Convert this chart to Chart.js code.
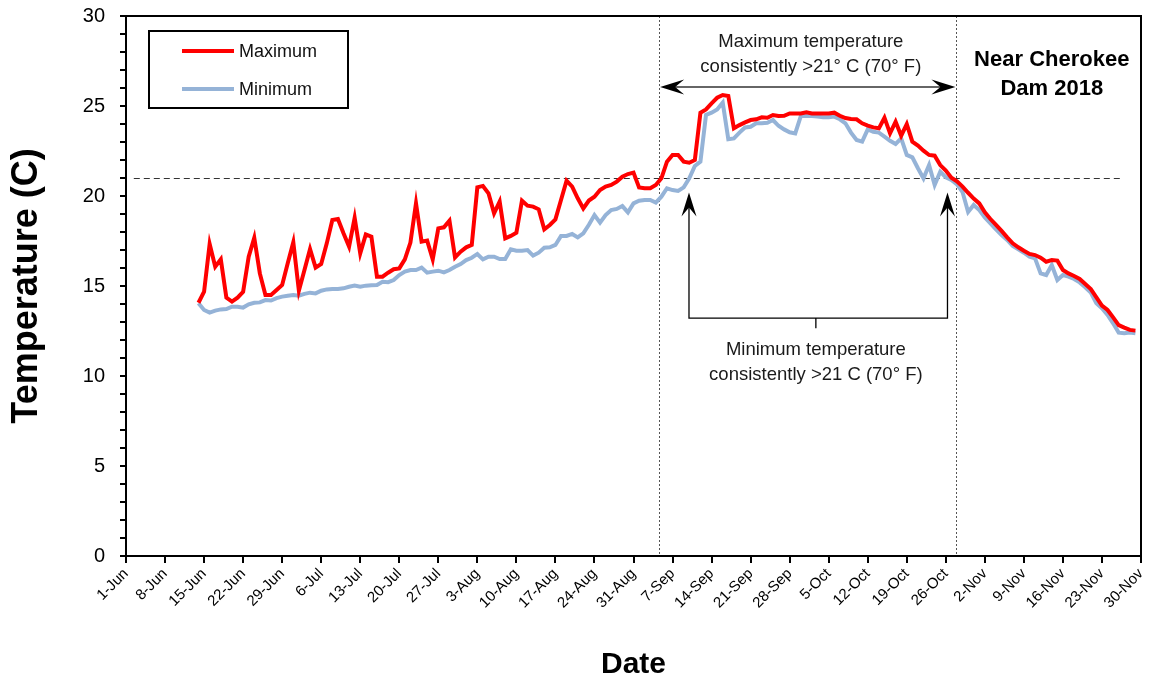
<!DOCTYPE html>
<html>
<head>
<meta charset="utf-8">
<script src="https://cdn.jsdelivr.net/npm/chart.js@4"></script>
<style>
  body { margin: 0; background: #fff; }
  #wrap { width: 1150px; height: 685px; position: relative; }
</style>
</head>
<body>
<div id="wrap"><canvas id="tempChart"></canvas></div>
<script>
// x axis is days counted from 1-Jun (0) to 30-Nov (182)
const tickLabels = ['1-Jun', '8-Jun', '15-Jun', '22-Jun', '29-Jun', '6-Jul', '13-Jul', '20-Jul', '27-Jul',
    '3-Aug', '10-Aug', '17-Aug', '24-Aug', '31-Aug', '7-Sep', '14-Sep', '21-Sep', '28-Sep', '5-Oct',
    '12-Oct', '19-Oct', '26-Oct', '2-Nov', '9-Nov', '16-Nov', '23-Nov', '30-Nov'];

const firstDay = 13; // 14-Jun, one reading per day after that

const maxTemp = [
    14.07, 14.68, 17.33, 16.07, 16.48, 14.35, 14.13, 14.35, 14.68, 16.63,
    17.68, 15.70, 14.50, 14.50, 14.78, 15.06, 16.26, 17.43, 14.74, 15.89,
    17.05, 16.02, 16.22, 17.37, 18.67, 18.72, 17.93, 17.19, 18.79, 16.81,
    17.87, 17.74, 15.52, 15.52, 15.74, 15.93, 15.98, 16.48, 17.41, 19.59,
    17.46, 17.52, 16.48, 18.20, 18.26, 18.63, 16.59, 16.91, 17.15, 17.28,
    20.48, 20.56, 20.15, 19.04, 19.69, 17.65, 17.78, 17.96, 19.74, 19.46,
    19.41, 19.26, 18.15, 18.39, 18.70, 19.78, 20.85, 20.52, 19.87, 19.31,
    19.75, 19.96, 20.33, 20.52, 20.61, 20.80, 21.07, 21.22, 21.30, 20.48,
    20.43, 20.43, 20.61, 20.98, 21.91, 22.28, 22.28, 21.91, 21.85, 22.00,
    24.63, 24.81, 25.15, 25.46, 25.61, 25.56, 23.76, 23.94, 24.09, 24.22,
    24.26, 24.37, 24.35, 24.50, 24.44, 24.46, 24.59, 24.59, 24.59, 24.65,
    24.59, 24.59, 24.59, 24.59, 24.63, 24.46, 24.33, 24.28, 24.26, 24.04,
    23.91, 23.81, 23.76, 24.35, 23.48, 24.13, 23.35, 23.99, 23.02, 22.80,
    22.52, 22.28, 22.24, 21.72, 21.41, 21.02, 20.82, 20.52, 20.18, 19.86,
    19.59, 19.09, 18.72, 18.39, 18.06, 17.70, 17.37, 17.15, 16.96, 16.78,
    16.72, 16.57, 16.35, 16.44, 16.41, 15.89, 15.70, 15.56, 15.39, 15.11,
    14.83, 14.37, 13.91, 13.67, 13.26, 12.83, 12.69, 12.56, 12.52
];

const minTemp = [
    14.04, 13.67, 13.52, 13.63, 13.70, 13.72, 13.85, 13.85, 13.80, 13.98,
    14.07, 14.09, 14.22, 14.19, 14.33, 14.41, 14.46, 14.50, 14.46, 14.56,
    14.63, 14.59, 14.74, 14.81, 14.83, 14.83, 14.87, 14.96, 15.02, 14.96,
    15.02, 15.04, 15.06, 15.24, 15.21, 15.33, 15.61, 15.80, 15.89, 15.89,
    16.02, 15.74, 15.80, 15.85, 15.76, 15.89, 16.07, 16.22, 16.44, 16.57,
    16.78, 16.48, 16.63, 16.63, 16.50, 16.50, 17.04, 16.96, 16.96, 17.00,
    16.69, 16.85, 17.13, 17.15, 17.28, 17.78, 17.78, 17.89, 17.70, 17.93,
    18.40, 18.94, 18.52, 18.94, 19.22, 19.28, 19.44, 19.09, 19.59, 19.74,
    19.78, 19.78, 19.63, 19.96, 20.43, 20.33, 20.28, 20.48, 20.98, 21.67,
    21.91, 24.50, 24.63, 24.81, 25.19, 23.15, 23.20, 23.52, 23.81, 23.85,
    24.04, 24.04, 24.07, 24.22, 23.90, 23.70, 23.54, 23.48, 24.44, 24.46,
    24.44, 24.41, 24.37, 24.37, 24.41, 24.26, 24.04, 23.52, 23.11, 23.02,
    23.70, 23.57, 23.52, 23.30, 23.07, 22.89, 23.20, 22.28, 22.15, 21.54,
    20.98, 21.72, 20.61, 21.35, 21.04, 20.89, 20.65, 20.22, 19.11, 19.50,
    19.22, 18.81, 18.48, 18.15, 17.83, 17.56, 17.22, 17.04, 16.85, 16.63,
    16.54, 15.70, 15.61, 16.17, 15.33, 15.61, 15.52, 15.39, 15.20, 14.93,
    14.63, 14.04, 13.76, 13.39, 12.93, 12.41, 12.37, 12.41, 12.37
];

const thresholdC = 21;
const periodStart = 95.6;  // day where max stays above 21
const periodEnd = 148.9;

const FONT = "'Liberation Sans', Arial, sans-serif";
Chart.defaults.font.family = FONT;
Chart.defaults.color = '#000';

function toPoints(values) {
    return values.map((v, i) => ({x: firstDay + i, y: v}));
}

function arrowHead(ctx, tx, ty, angle) {
    // tip at (tx, ty); the arrow body points along angle
    ctx.save();
    ctx.translate(tx, ty);
    ctx.rotate(angle);
    ctx.beginPath();
    ctx.moveTo(0, 0);
    ctx.lineTo(24, -7.5);
    ctx.lineTo(15, 0);
    ctx.lineTo(24, 7.5);
    ctx.closePath();
    ctx.fill();
    ctx.restore();
}

const annotations = {
    id: 'annotations',
    beforeDatasetsDraw(chart) {
        const ctx = chart.ctx, a = chart.chartArea;
        const xs = chart.scales.x, ys = chart.scales.y;
        ctx.save();
        ctx.lineWidth = 1;
        ctx.strokeStyle = '#333';
        ctx.setLineDash([6, 4]);
        const y21 = Math.round(ys.getPixelForValue(thresholdC)) + 0.5;
        ctx.beginPath();
        ctx.moveTo(xs.getPixelForValue(1.4), y21);
        ctx.lineTo(xs.getPixelForValue(178.6), y21);
        ctx.stroke();

        ctx.strokeStyle = '#555';
        ctx.setLineDash([2, 2]);
        [periodStart, periodEnd].forEach(d => {
            const x = Math.round(xs.getPixelForValue(d)) + 0.5;
            ctx.beginPath();
            ctx.moveTo(x, a.top);
            ctx.lineTo(x, a.bottom);
            ctx.stroke();
        });
        ctx.restore();
    },
    afterDraw(chart) {
        const ctx = chart.ctx, a = chart.chartArea;
        const xs = chart.scales.x, ys = chart.scales.y;
        const px = d => xs.getPixelForValue(d);
        const py = t => ys.getPixelForValue(t);
        ctx.save();

        // plot frame
        ctx.strokeStyle = '#000';
        ctx.lineWidth = 2;
        ctx.strokeRect(a.left, a.top, a.width, a.height);

        // double arrow for the max period
        const yArrow = py(26.05);
        ctx.strokeStyle = '#333';
        ctx.fillStyle = '#000';
        ctx.lineWidth = 1.5;
        ctx.beginPath();
        ctx.moveTo(px(periodStart) + 10, yArrow);
        ctx.lineTo(px(periodEnd) - 10, yArrow);
        ctx.stroke();
        arrowHead(ctx, px(periodStart) + 1, yArrow, 0);
        arrowHead(ctx, px(periodEnd) - 1, yArrow, Math.PI);

        // bracket for the min period
        const xL = px(100.95), xR = px(147.3), xM = px(123.7);
        const yTip = py(20.2), yBase = py(13.22);
        ctx.strokeStyle = '#000';
        ctx.lineWidth = 1.3;
        ctx.beginPath();
        ctx.moveTo(xL, yTip + 10);
        ctx.lineTo(xL, yBase);
        ctx.lineTo(xR, yBase);
        ctx.lineTo(xR, yTip + 10);
        ctx.moveTo(xM, yBase);
        ctx.lineTo(xM, py(12.65));
        ctx.stroke();
        arrowHead(ctx, xL, yTip, Math.PI / 2);
        arrowHead(ctx, xR, yTip, Math.PI / 2);

        // texts
        ctx.fillStyle = '#1a1a1a';
        ctx.textAlign = 'center';
        ctx.textBaseline = 'middle';
        ctx.font = '18.5px ' + FONT;
        ctx.fillText('Maximum temperature', px(122.8), py(28.55));
        ctx.fillText('consistently >21° C (70° F)', px(122.8), py(27.17));
        ctx.fillText('Minimum temperature', px(123.7), py(11.44));
        ctx.fillText('consistently >21 C (70° F)', px(123.7), py(10.06));

        ctx.fillStyle = '#000';
        ctx.font = 'bold 22px ' + FONT;
        ctx.fillText('Near Cherokee', px(166), py(27.56));
        ctx.fillText('Dam 2018', px(166), py(25.94));

        // legend
        const lx = a.left + 23, ly = a.top + 15;
        ctx.fillStyle = '#fff';
        ctx.fillRect(lx, ly, 199, 77);
        ctx.strokeStyle = '#000';
        ctx.lineWidth = 2;
        ctx.strokeRect(lx, ly, 199, 77);
        chart.data.datasets.forEach((ds, i) => {
            const yy = ly + 20 + i * 38;
            ctx.strokeStyle = ds.borderColor;
            ctx.lineWidth = 4;
            ctx.beginPath();
            ctx.moveTo(lx + 33, yy);
            ctx.lineTo(lx + 85, yy);
            ctx.stroke();
            ctx.fillStyle = '#111';
            ctx.textAlign = 'left';
            ctx.font = '18px ' + FONT;
            ctx.fillText(ds.label, lx + 90, yy + 1);
        });
        ctx.restore();
    }
};

new Chart(document.getElementById('tempChart'), {
    type: 'line',
    data: {
        datasets: [{
            label: 'Maximum',
            data: toPoints(maxTemp),
            borderColor: '#ff0000',
            borderWidth: 4,
            pointRadius: 0,
            tension: 0
        }, {
            label: 'Minimum',
            data: toPoints(minTemp),
            borderColor: '#95b3d7',
            borderWidth: 4,
            pointRadius: 0,
            tension: 0
        }]
    },
    options: {
        responsive: true,
        maintainAspectRatio: false,
        animation: false,
        devicePixelRatio: 1,
        layout: {padding: {left: 0, right: 9, top: 16, bottom: 0}},
        plugins: {
            legend: {display: false},
            tooltip: {enabled: false}
        },
        scales: {
            x: {
                type: 'linear',
                min: 0,
                max: 182,
                afterFit: s => {
                    s.height = 129;
                    s.paddingLeft = 0;
                    s.paddingRight = 0;
                },
                ticks: {
                    stepSize: 7,
                    autoSkip: false,
                    maxRotation: 45,
                    minRotation: 45,
                    padding: 2,
                    font: {size: 15},
                    callback: v => tickLabels[Math.round(v / 7)]
                },
                grid: {drawOnChartArea: false, tickLength: 7, color: '#000', lineWidth: 2},
                border: {display: false},
                title: {display: true, text: 'Date', font: {size: 30, weight: 'bold'}, padding: {top: 0, bottom: 2}}
            },
            y: {
                min: 0,
                max: 30,
                afterFit: s => {
                    s.width = 126;
                    s.paddingTop = 0;
                    s.paddingBottom = 0;
                },
                ticks: {
                    stepSize: 1,
                    autoSkip: false,
                    padding: 15,
                    font: {size: 20},
                    callback: v => (v % 5 === 0 ? v : '')
                },
                grid: {drawOnChartArea: false, tickLength: 6, color: '#000', lineWidth: 2},
                border: {display: false},
                title: {display: true, text: 'Temperature (C)', font: {size: 36, weight: 'bold'}, padding: {top: 5, bottom: 0}}
            }
        }
    },
    plugins: [annotations]
});
</script>
</body>
</html>
